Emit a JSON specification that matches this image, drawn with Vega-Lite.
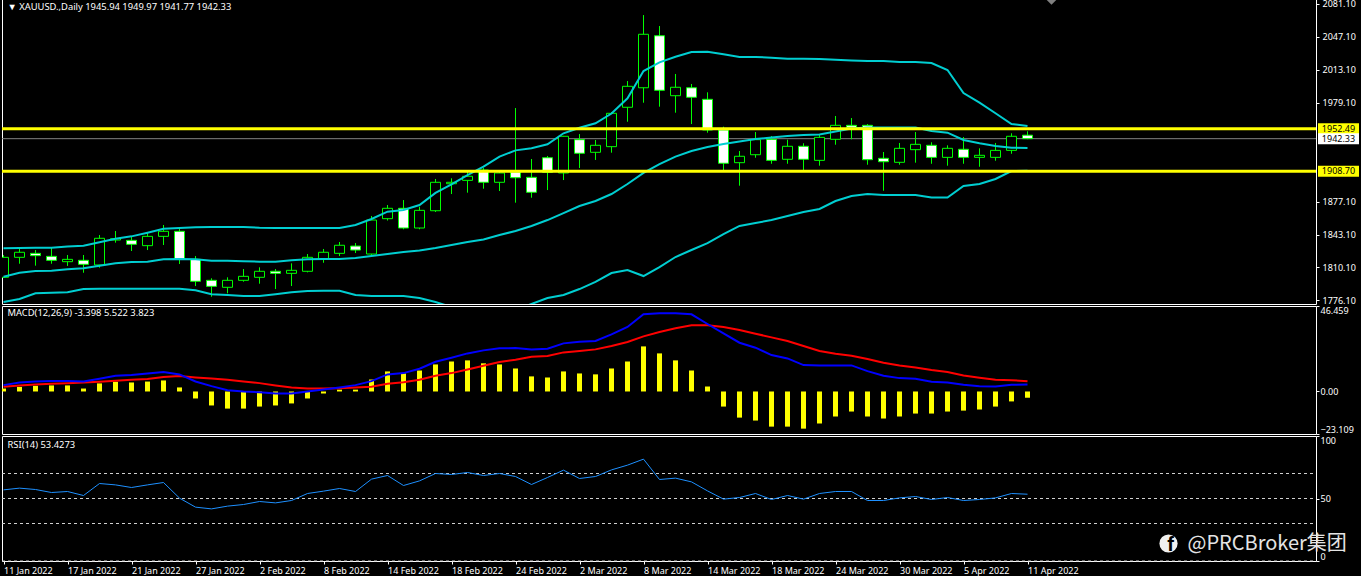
{
  "$schema": "https://vega.github.io/schema/vega-lite/v6.json",
  "background": "#000000",
  "padding": {"left": 0, "top": -3, "right": 0, "bottom": 0},
  "spacing": 2,
  "bounds": "flush",
  "datasets": {
    "daily": [
      {"date":"2022-01-11","open":1799.5,"high":1822.5,"low":1798.8,"close":1820.1,"upper":1829.4,"middle":1800.1,"lower":1774,"hist":1.6,"macd":3.45,"signal":2.54,"rsi":56.9},
      {"date":"2022-01-12","open":1820.1,"high":1828.7,"low":1813.5,"close":1825.3,"upper":1829.7,"middle":1804.2,"lower":1777.1,"hist":2.5,"macd":4.9,"signal":3.27,"rsi":58.3},
      {"date":"2022-01-13","open":1824.2,"high":1827.6,"low":1811.5,"close":1821.8,"upper":1830,"middle":1806,"lower":1783,"hist":3.1,"macd":5.45,"signal":3.81,"rsi":57.2},
      {"date":"2022-01-14","open":1821.1,"high":1829.7,"low":1813.5,"close":1817,"upper":1830,"middle":1806.3,"lower":1783.6,"hist":3.3,"macd":5.63,"signal":4.18,"rsi":54.8},
      {"date":"2022-01-17","open":1815.6,"high":1822.5,"low":1811.2,"close":1818,"upper":1831.2,"middle":1807.7,"lower":1784,"hist":3.3,"macd":5.63,"signal":4.54,"rsi":55.6},
      {"date":"2022-01-18","open":1817,"high":1822.5,"low":1804.2,"close":1812.9,"upper":1832.1,"middle":1808.8,"lower":1787.4,"hist":1.6,"macd":5.45,"signal":4.9,"rsi":52.4},
      {"date":"2022-01-19","open":1812.2,"high":1843.1,"low":1809.4,"close":1839.7,"upper":1835.6,"middle":1811.5,"lower":1787.8,"hist":4.4,"macd":6.9,"signal":5.27,"rsi":62},
      {"date":"2022-01-20","open":1837.9,"high":1847.2,"low":1835.2,"close":1839.3,"upper":1839.3,"middle":1813.9,"lower":1787.8,"hist":5.3,"macd":8.54,"signal":5.81,"rsi":60.9},
      {"date":"2022-01-21","open":1837.6,"high":1841,"low":1826.6,"close":1833.5,"upper":1841.7,"middle":1815.3,"lower":1787.8,"hist":4.9,"macd":8.9,"signal":6.36,"rsi":58.8},
      {"date":"2022-01-24","open":1832.1,"high":1845.1,"low":1827.6,"close":1841.7,"upper":1845.5,"middle":1815.6,"lower":1787.8,"hist":5.4,"macd":9.81,"signal":6.72,"rsi":60.9},
      {"date":"2022-01-25","open":1841.7,"high":1853.4,"low":1832.8,"close":1846.9,"upper":1849.6,"middle":1818,"lower":1787.8,"hist":6,"macd":10.53,"signal":7.81,"rsi":62.8},
      {"date":"2022-01-26","open":1846.9,"high":1849.3,"low":1813.2,"close":1818,"upper":1850.3,"middle":1818.4,"lower":1787.8,"hist":2.2,"macd":9.26,"signal":8.35,"rsi":50.3},
      {"date":"2022-01-27","open":1818,"high":1821.4,"low":1790.5,"close":1795.4,"upper":1851,"middle":1818,"lower":1786.1,"hist":-3.8,"macd":5.45,"signal":7.63,"rsi":43.1},
      {"date":"2022-01-28","open":1796.4,"high":1798.5,"low":1779.5,"close":1790.2,"upper":1851.3,"middle":1816.6,"lower":1782,"hist":-7.6,"macd":2.91,"signal":7.08,"rsi":41.7},
      {"date":"2022-01-31","open":1789.2,"high":1799.5,"low":1783,"close":1796.4,"upper":1851.3,"middle":1816.6,"lower":1781.3,"hist":-9.3,"macd":0.73,"signal":6.36,"rsi":43.9},
      {"date":"2022-02-01","open":1796.4,"high":1808,"low":1795,"close":1800.5,"upper":1851.3,"middle":1816,"lower":1780.2,"hist":-9.3,"macd":0,"signal":5.45,"rsi":45.2},
      {"date":"2022-02-02","open":1799.5,"high":1809.8,"low":1792.9,"close":1805.7,"upper":1850.6,"middle":1815.6,"lower":1780.2,"hist":-8.2,"macd":-0.36,"signal":4.54,"rsi":47.6},
      {"date":"2022-02-03","open":1805.7,"high":1808,"low":1787.4,"close":1803.6,"upper":1850.3,"middle":1815.6,"lower":1782,"hist":-7.6,"macd":-1.09,"signal":3.27,"rsi":46.5},
      {"date":"2022-02-04","open":1803.6,"high":1813.9,"low":1790.5,"close":1806.7,"upper":1850.3,"middle":1817,"lower":1784,"hist":-6.5,"macd":-1.09,"signal":2.18,"rsi":48.4},
      {"date":"2022-02-07","open":1805.7,"high":1823.5,"low":1804.6,"close":1820.1,"upper":1850.3,"middle":1818,"lower":1785.4,"hist":-3.8,"macd":0,"signal":1.63,"rsi":54},
      {"date":"2022-02-08","open":1818.7,"high":1828.7,"low":1814.5,"close":1825.3,"upper":1850.3,"middle":1818.4,"lower":1785.7,"hist":-1.1,"macd":1.09,"signal":1.63,"rsi":55.9},
      {"date":"2022-02-09","open":1824.2,"high":1835.9,"low":1821.4,"close":1832.5,"upper":1850.3,"middle":1818.4,"lower":1785.7,"hist":1,"macd":2.18,"signal":1.82,"rsi":58},
      {"date":"2022-02-10","open":1831.7,"high":1834.8,"low":1824.5,"close":1827.6,"upper":1853.4,"middle":1819.4,"lower":1781.3,"hist":1,"macd":3.45,"signal":2.18,"rsi":55.6},
      {"date":"2022-02-11","open":1823.5,"high":1862.7,"low":1822.5,"close":1858.5,"upper":1859.6,"middle":1821.4,"lower":1780.2,"hist":6.5,"macd":5.63,"signal":2.54,"rsi":65.5},
      {"date":"2022-02-14","open":1859.9,"high":1874,"low":1858,"close":1870.6,"upper":1867.1,"middle":1823.5,"lower":1780.2,"hist":10.9,"macd":9.26,"signal":4.18,"rsi":68.4},
      {"date":"2022-02-15","open":1870.6,"high":1879.1,"low":1849,"close":1850.3,"upper":1868.8,"middle":1825.6,"lower":1780.2,"hist":9.8,"macd":9.99,"signal":5.08,"rsi":60.4},
      {"date":"2022-02-16","open":1850.3,"high":1872.2,"low":1849,"close":1868.5,"upper":1874,"middle":1827.1,"lower":1778.2,"hist":11.4,"macd":12.35,"signal":6.36,"rsi":64.1},
      {"date":"2022-02-17","open":1868.1,"high":1900.8,"low":1866.8,"close":1897.4,"upper":1886.4,"middle":1829.7,"lower":1774,"hist":14.7,"macd":16.16,"signal":8.54,"rsi":70},
      {"date":"2022-02-18","open":1895.9,"high":1901.5,"low":1885.3,"close":1897.4,"upper":1895.3,"middle":1832.8,"lower":1768.9,"hist":16.3,"macd":18.34,"signal":9.99,"rsi":69.2},
      {"date":"2022-02-21","open":1899.4,"high":1908,"low":1886.7,"close":1903.6,"upper":1904.9,"middle":1835.9,"lower":1763.7,"hist":16.9,"macd":20.7,"signal":11.99,"rsi":70.8},
      {"date":"2022-02-22","open":1910,"high":1912.1,"low":1890.8,"close":1897.4,"upper":1913.5,"middle":1838.4,"lower":1760.7,"hist":15.3,"macd":22.34,"signal":13.98,"rsi":68.4},
      {"date":"2022-02-23","open":1897.4,"high":1910,"low":1888.4,"close":1907,"upper":1923.8,"middle":1843.1,"lower":1758.6,"hist":14.7,"macd":23.43,"signal":15.98,"rsi":70},
      {"date":"2022-02-24","open":1908,"high":1973.9,"low":1876.4,"close":1902.1,"upper":1930.3,"middle":1847.2,"lower":1765.8,"hist":12.5,"macd":23.61,"signal":17.25,"rsi":67.6},
      {"date":"2022-02-25","open":1902.5,"high":1921.4,"low":1881.5,"close":1887.1,"upper":1932.4,"middle":1852.4,"lower":1772,"hist":8.2,"macd":22.88,"signal":18.89,"rsi":61.2},
      {"date":"2022-02-28","open":1922.7,"high":1924.5,"low":1889.4,"close":1907.7,"upper":1936.5,"middle":1858.5,"lower":1778.2,"hist":7.6,"macd":23.24,"signal":19.25,"rsi":66.8},
      {"date":"2022-03-01","open":1907,"high":1945.2,"low":1899.7,"close":1944.8,"upper":1947.9,"middle":1865.7,"lower":1781.3,"hist":10.9,"macd":26.15,"signal":21.25,"rsi":72.7},
      {"date":"2022-03-02","open":1941.3,"high":1947.1,"low":1912.1,"close":1927.3,"upper":1953.6,"middle":1873,"lower":1787.4,"hist":9.8,"macd":27.06,"signal":21.97,"rsi":66},
      {"date":"2022-03-03","open":1928.3,"high":1941,"low":1920.4,"close":1935.5,"upper":1958.2,"middle":1878.1,"lower":1794.7,"hist":9.3,"macd":27.42,"signal":22.88,"rsi":67.6},
      {"date":"2022-03-04","open":1934.1,"high":1969.8,"low":1927.9,"close":1968.5,"upper":1968.3,"middle":1885.3,"lower":1803.9,"hist":12.5,"macd":31.05,"signal":24.7,"rsi":72.9},
      {"date":"2022-03-07","open":1974.7,"high":2001.7,"low":1959.8,"close":1996.3,"upper":1983.9,"middle":1895.6,"lower":1807,"hist":16.3,"macd":35.05,"signal":26.88,"rsi":76.7},
      {"date":"2022-03-08","open":1994.8,"high":2069.7,"low":1979.4,"close":2049.9,"upper":2012,"middle":1907,"lower":1800.8,"hist":24.5,"macd":41.95,"signal":29.96,"rsi":81.5},
      {"date":"2022-03-09","open":2048.4,"high":2058.4,"low":1975.3,"close":1992.2,"upper":2021,"middle":1916.2,"lower":1810.1,"hist":20.7,"macd":42.49,"signal":32.32,"rsi":65.2},
      {"date":"2022-03-10","open":1986.6,"high":2009,"low":1969.1,"close":1995.3,"upper":2026.8,"middle":1923.8,"lower":1820.4,"hist":16.9,"macd":42.49,"signal":34.32,"rsi":66.3},
      {"date":"2022-03-11","open":1994.8,"high":1998.7,"low":1957.4,"close":1985,"upper":2031.6,"middle":1929.6,"lower":1827.6,"hist":11.4,"macd":41.95,"signal":35.96,"rsi":63.3},
      {"date":"2022-03-14","open":1982.9,"high":1990.1,"low":1948.5,"close":1951.3,"upper":2031.9,"middle":1933.7,"lower":1834.8,"hist":2.7,"macd":36.68,"signal":35.96,"rsi":56.1},
      {"date":"2022-03-15","open":1951.3,"high":1954.7,"low":1908.3,"close":1917,"upper":2029.3,"middle":1936.8,"lower":1844.1,"hist":-8.2,"macd":31.6,"signal":35.05,"rsi":49.5},
      {"date":"2022-03-16","open":1917.6,"high":1929.6,"low":1893.9,"close":1924.2,"upper":2026.5,"middle":1939.4,"lower":1852.4,"hist":-14.2,"macd":26.51,"signal":33.41,"rsi":50.8},
      {"date":"2022-03-17","open":1925.8,"high":1949.2,"low":1922.7,"close":1941.3,"upper":2026.5,"middle":1942,"lower":1855.4,"hist":-15.8,"macd":23.79,"signal":31.42,"rsi":54},
      {"date":"2022-03-18","open":1941.7,"high":1945.1,"low":1916.5,"close":1920,"upper":2025.8,"middle":1943.5,"lower":1858.5,"hist":-19.1,"macd":19.79,"signal":29.42,"rsi":49.2},
      {"date":"2022-03-21","open":1921.1,"high":1941.3,"low":1916.5,"close":1934.5,"upper":2024.7,"middle":1945.1,"lower":1862.7,"hist":-19.1,"macd":17.98,"signal":27.42,"rsi":52.4},
      {"date":"2022-03-22","open":1934.5,"high":1937.6,"low":1908,"close":1921.1,"upper":2024.7,"middle":1946.1,"lower":1866.8,"hist":-20.2,"macd":14.35,"signal":24.7,"rsi":49.5},
      {"date":"2022-03-23","open":1920,"high":1946.1,"low":1914.5,"close":1943.7,"upper":2024.4,"middle":1946.6,"lower":1869.9,"hist":-17.4,"macd":14.16,"signal":21.97,"rsi":54},
      {"date":"2022-03-24","open":1941.7,"high":1965.7,"low":1936.1,"close":1956.1,"upper":2023.7,"middle":1949.7,"lower":1878.1,"hist":-13.6,"macd":14.16,"signal":20.52,"rsi":55.6},
      {"date":"2022-03-25","open":1956.1,"high":1963.6,"low":1941.7,"close":1954,"upper":2022.9,"middle":1952.8,"lower":1883.3,"hist":-10.9,"macd":14.16,"signal":19.43,"rsi":55.6},
      {"date":"2022-03-28","open":1956.1,"high":1957.4,"low":1915.5,"close":1920.7,"upper":2022.4,"middle":1953.8,"lower":1885.3,"hist":-13.6,"macd":11.08,"signal":17.62,"rsi":48.4},
      {"date":"2022-03-29","open":1922.1,"high":1928.6,"low":1888.7,"close":1918.6,"upper":2022.4,"middle":1953.8,"lower":1884.3,"hist":-14.7,"macd":8.54,"signal":15.62,"rsi":48.4},
      {"date":"2022-03-30","open":1918,"high":1937.9,"low":1915.5,"close":1932.4,"upper":2021.3,"middle":1953.8,"lower":1884.3,"hist":-13.6,"macd":7.26,"signal":14.16,"rsi":50.5},
      {"date":"2022-03-31","open":1931,"high":1949.2,"low":1917.6,"close":1936.5,"upper":2021.3,"middle":1953.8,"lower":1884.3,"hist":-12,"macd":6.9,"signal":13.08,"rsi":51.6},
      {"date":"2022-04-01","open":1935.5,"high":1938.6,"low":1916.5,"close":1923.1,"upper":2020.3,"middle":1950.2,"lower":1881.7,"hist":-12,"macd":5.27,"signal":11.62,"rsi":49.2},
      {"date":"2022-04-04","open":1923.1,"high":1935.5,"low":1914.5,"close":1932.4,"upper":2013.1,"middle":1948.5,"lower":1881.7,"hist":-10.9,"macd":4.9,"signal":10.53,"rsi":50.8},
      {"date":"2022-04-05","open":1931.4,"high":1944,"low":1916.5,"close":1923.1,"upper":1989.4,"middle":1941,"lower":1893.6,"hist":-10.4,"macd":3.63,"signal":8.72,"rsi":48.4},
      {"date":"2022-04-06","open":1923.1,"high":1932.4,"low":1913.4,"close":1925.2,"upper":1979.4,"middle":1937.6,"lower":1895.6,"hist":-9.8,"macd":2.91,"signal":7.45,"rsi":49.2},
      {"date":"2022-04-07","open":1923.1,"high":1937.9,"low":1919.6,"close":1930.3,"upper":1968.5,"middle":1934.8,"lower":1900.8,"hist":-8.2,"macd":2.72,"signal":6.36,"rsi":50.5},
      {"date":"2022-04-08","open":1930.3,"high":1947.9,"low":1926.8,"close":1944.8,"upper":1957.4,"middle":1933,"lower":1909,"hist":-5.4,"macd":3.63,"signal":6.17,"rsi":54},
      {"date":"2022-04-11","open":1945.94,"high":1949.97,"low":1941.77,"close":1942.33,"upper":1955.4,"middle":1932.7,"lower":1909.3,"hist":-3.398,"macd":3.823,"signal":5.522,"rsi":53.4273}
    ]
  },
  "vconcat": [
    {
      "width": 1314,
      "height": 306,
      "data": {"name": "daily"},
      "encoding": {
        "x": {"field": "date", "type": "ordinal", "axis": null, "scale": {"type": "point", "padding": 0.0625, "align": 0.75, "domain": ["2022-01-11","2022-01-12","2022-01-13","2022-01-14","2022-01-17","2022-01-18","2022-01-19","2022-01-20","2022-01-21","2022-01-24","2022-01-25","2022-01-26","2022-01-27","2022-01-28","2022-01-31","2022-02-01","2022-02-02","2022-02-03","2022-02-04","2022-02-07","2022-02-08","2022-02-09","2022-02-10","2022-02-11","2022-02-14","2022-02-15","2022-02-16","2022-02-17","2022-02-18","2022-02-21","2022-02-22","2022-02-23","2022-02-24","2022-02-25","2022-02-28","2022-03-01","2022-03-02","2022-03-03","2022-03-04","2022-03-07","2022-03-08","2022-03-09","2022-03-10","2022-03-11","2022-03-14","2022-03-15","2022-03-16","2022-03-17","2022-03-18","2022-03-21","2022-03-22","2022-03-23","2022-03-24","2022-03-25","2022-03-28","2022-03-29","2022-03-30","2022-03-31","2022-04-01","2022-04-04","2022-04-05","2022-04-06","2022-04-07","2022-04-08","2022-04-11","2022-04-12","2022-04-13","2022-04-14","2022-04-15","2022-04-18","2022-04-19","2022-04-20","2022-04-21","2022-04-22","2022-04-25","2022-04-26","2022-04-27","2022-04-28","2022-04-29","2022-05-02","2022-05-03","2022-05-04","2022-05-05"]}}
      },
      "layer": [
        {
          "data": {"values": [{"price": 1942.33}]},
          "mark": {"type": "rule", "color": "#808080", "strokeWidth": 1},
          "encoding": {
            "x": {"value": 0},
            "x2": {"value": 1314},
            "y": {
              "field": "price",
              "type": "quantitative",
              "scale": {"domain": [1772.0, 2087.28], "nice": false, "zero": false},
              "axis": {
                "orient": "right",
                "title": null,
                "grid": false,
                "domain": false,
                "values": [2081.1, 2047.1, 2013.1, 1979.1, 1877.1, 1843.1, 1810.1, 1776.1],
                "format": ".2f",
                "tickColor": "#ffffff",
                "tickSize": 3,
                "labelColor": "#ffffff",
                "labelFont": "Noto Sans",
                "labelFontSize": 9,
                "labelPadding": 3,
                "labelBound": false,
                "labelOverlap": false,
                "minExtent": 44,
                "maxExtent": 44
              }
            }
          }
        },
        {
          "mark": {"type": "rule", "color": "#00ff00", "strokeWidth": 1, "clip": true},
          "encoding": {
            "y": {"field": "low", "type": "quantitative", "axis": {"orient": "right", "title": null}},
            "y2": {"field": "high"}
          }
        },
        {
          "mark": {"type": "bar", "size": 10, "stroke": "#00ff00", "strokeWidth": 1, "clip": true},
          "encoding": {
            "y": {"field": "open", "type": "quantitative", "axis": {"orient": "right", "title": null}},
            "y2": {"field": "close"},
            "color": {"condition": {"test": "datum.close < datum.open", "value": "#ffffff"}, "value": "#000000"}
          }
        },
        {
          "mark": {"type": "line", "color": "#00ced1", "strokeWidth": 2, "clip": true},
          "encoding": {"y": {"field": "upper", "type": "quantitative", "axis": {"orient": "right", "title": null}}}
        },
        {
          "mark": {"type": "line", "color": "#00ced1", "strokeWidth": 2, "clip": true},
          "encoding": {"y": {"field": "middle", "type": "quantitative", "axis": {"orient": "right", "title": null}}}
        },
        {
          "mark": {"type": "line", "color": "#00ced1", "strokeWidth": 2, "clip": true},
          "encoding": {"y": {"field": "lower", "type": "quantitative", "axis": {"orient": "right", "title": null}}}
        },
        {
          "data": {"values": [{"price": 1952.49}, {"price": 1908.7}]},
          "mark": {"type": "rule", "color": "#ffff00", "strokeWidth": 3},
          "encoding": {
            "x": {"value": 0},
            "x2": {"value": 1314},
            "y": {"field": "price", "type": "quantitative", "axis": {"orient": "right", "title": null}}
          }
        },
        {
          "data": {"values": [{"date": "2022-04-11", "price": 1952.49}, {"date": "2022-04-11", "price": 1908.7}]},
          "mark": {"type": "point", "shape": "M-1,-0.27H1V0.27H-1Z", "size": 1681, "filled": true, "color": "#ffff00", "opacity": 1, "xOffset": 311},
          "encoding": {"y": {"field": "price", "type": "quantitative", "axis": {"orient": "right", "title": null}}}
        },
        {
          "data": {"values": [{"date": "2022-04-11", "price": 1942.33}]},
          "mark": {"type": "point", "shape": "M-1,-0.27H1V0.27H-1Z", "size": 1681, "filled": true, "color": "#ffffff", "opacity": 1, "xOffset": 311},
          "encoding": {"y": {"field": "price", "type": "quantitative", "axis": {"orient": "right", "title": null}}}
        },
        {
          "data": {"values": [{"date": "2022-04-11", "price": 1952.49}, {"date": "2022-04-11", "price": 1942.33}, {"date": "2022-04-11", "price": 1908.7}]},
          "mark": {"type": "text", "color": "#000000", "font": "Noto Sans", "fontSize": 9, "dx": 311, "align": "center", "baseline": "middle"},
          "encoding": {
            "y": {"field": "price", "type": "quantitative", "axis": {"orient": "right", "title": null}},
            "text": {"field": "price", "type": "quantitative", "format": ".2f"}
          }
        },
        {
          "data": {"values": [{"date": "2022-04-11", "price": 2085.22}]},
          "mark": {"type": "point", "shape": "diamond", "size": 90, "filled": true, "color": "#808080", "opacity": 1, "xOffset": 24, "clip": true},
          "encoding": {"y": {"field": "price", "type": "quantitative", "axis": {"orient": "right", "title": null}}}
        },
        {
          "data": {"values": [{"date": "2022-01-11", "price": 2078, "label": "▼ XAUUSD.,Daily  1945.94 1949.97 1941.77 1942.33"}]},
          "mark": {"type": "text", "color": "#ffffff", "font": "Noto Sans", "fontSize": 9.4, "dx": 4, "align": "left", "baseline": "middle"},
          "encoding": {
            "y": {"field": "price", "type": "quantitative", "axis": {"orient": "right", "title": null}},
            "text": {"field": "label", "type": "nominal"}
          }
        }
      ]
    },
    {
      "width": 1314,
      "height": 128,
      "data": {"name": "daily"},
      "encoding": {
        "x": {"field": "date", "type": "ordinal", "axis": null, "scale": {"type": "point", "padding": 0.0625, "align": 0.75, "domain": ["2022-01-11","2022-01-12","2022-01-13","2022-01-14","2022-01-17","2022-01-18","2022-01-19","2022-01-20","2022-01-21","2022-01-24","2022-01-25","2022-01-26","2022-01-27","2022-01-28","2022-01-31","2022-02-01","2022-02-02","2022-02-03","2022-02-04","2022-02-07","2022-02-08","2022-02-09","2022-02-10","2022-02-11","2022-02-14","2022-02-15","2022-02-16","2022-02-17","2022-02-18","2022-02-21","2022-02-22","2022-02-23","2022-02-24","2022-02-25","2022-02-28","2022-03-01","2022-03-02","2022-03-03","2022-03-04","2022-03-07","2022-03-08","2022-03-09","2022-03-10","2022-03-11","2022-03-14","2022-03-15","2022-03-16","2022-03-17","2022-03-18","2022-03-21","2022-03-22","2022-03-23","2022-03-24","2022-03-25","2022-03-28","2022-03-29","2022-03-30","2022-03-31","2022-04-01","2022-04-04","2022-04-05","2022-04-06","2022-04-07","2022-04-08","2022-04-11","2022-04-12","2022-04-13","2022-04-14","2022-04-15","2022-04-18","2022-04-19","2022-04-20","2022-04-21","2022-04-22","2022-04-25","2022-04-26","2022-04-27","2022-04-28","2022-04-29","2022-05-02","2022-05-03","2022-05-04","2022-05-05"]}}
      },
      "layer": [
        {
          "mark": {"type": "bar", "size": 5, "color": "#ffff00", "clip": true},
          "encoding": {
            "y": {
              "field": "hist",
              "type": "quantitative",
              "scale": {"domain": [-23.109, 46.459], "nice": false},
              "axis": {
                "orient": "right",
                "title": null,
                "grid": false,
                "domain": false,
                "values": [46.459, 0, -23.109],
                "labelExpr": "datum.value === 0 ? '0.00' : format(datum.value, '.3f')",
                "labelFlush": true,
                "tickColor": "#ffffff",
                "tickSize": 3,
                "labelColor": "#ffffff",
                "labelFont": "Noto Sans",
                "labelFontSize": 9,
                "labelPadding": 1,
                "labelBound": false,
                "labelOverlap": false,
                "minExtent": 44,
                "maxExtent": 44
              }
            }
          }
        },
        {
          "mark": {"type": "line", "color": "#ff0000", "strokeWidth": 2, "clip": true},
          "encoding": {"y": {"field": "signal", "type": "quantitative", "axis": {"orient": "right", "title": null}}}
        },
        {
          "mark": {"type": "line", "color": "#0000ff", "strokeWidth": 2, "clip": true},
          "encoding": {"y": {"field": "macd", "type": "quantitative", "axis": {"orient": "right", "title": null}}}
        },
        {
          "data": {"values": [{"date": "2022-01-11", "hist": 42.8, "label": "MACD(12,26,9) -3.398 5.522 3.823"}]},
          "mark": {"type": "text", "color": "#ffffff", "font": "Noto Sans", "fontSize": 9.4, "dx": 4, "align": "left", "baseline": "middle"},
          "encoding": {
            "y": {"field": "hist", "type": "quantitative", "axis": {"orient": "right", "title": null}},
            "text": {"field": "label", "type": "nominal"}
          }
        }
      ]
    },
    {
      "width": 1314,
      "height": 125,
      "data": {"name": "daily"},
      "encoding": {
        "x": {
          "field": "date",
          "type": "ordinal",
          "scale": {"type": "point", "padding": 0.0625, "align": 0.75, "domain": ["2022-01-11","2022-01-12","2022-01-13","2022-01-14","2022-01-17","2022-01-18","2022-01-19","2022-01-20","2022-01-21","2022-01-24","2022-01-25","2022-01-26","2022-01-27","2022-01-28","2022-01-31","2022-02-01","2022-02-02","2022-02-03","2022-02-04","2022-02-07","2022-02-08","2022-02-09","2022-02-10","2022-02-11","2022-02-14","2022-02-15","2022-02-16","2022-02-17","2022-02-18","2022-02-21","2022-02-22","2022-02-23","2022-02-24","2022-02-25","2022-02-28","2022-03-01","2022-03-02","2022-03-03","2022-03-04","2022-03-07","2022-03-08","2022-03-09","2022-03-10","2022-03-11","2022-03-14","2022-03-15","2022-03-16","2022-03-17","2022-03-18","2022-03-21","2022-03-22","2022-03-23","2022-03-24","2022-03-25","2022-03-28","2022-03-29","2022-03-30","2022-03-31","2022-04-01","2022-04-04","2022-04-05","2022-04-06","2022-04-07","2022-04-08","2022-04-11","2022-04-12","2022-04-13","2022-04-14","2022-04-15","2022-04-18","2022-04-19","2022-04-20","2022-04-21","2022-04-22","2022-04-25","2022-04-26","2022-04-27","2022-04-28","2022-04-29","2022-05-02","2022-05-03","2022-05-04","2022-05-05"]},
          "axis": {
            "title": null,
            "grid": false,
            "domain": false,
            "values": ["2022-01-11", "2022-01-17", "2022-01-21", "2022-01-27", "2022-02-02", "2022-02-08", "2022-02-14", "2022-02-18", "2022-02-24", "2022-03-02", "2022-03-08", "2022-03-14", "2022-03-18", "2022-03-24", "2022-03-30", "2022-04-05", "2022-04-11"],
            "labelExpr": "utcFormat(toDate(datum.value), '%-d %b %Y')",
            "labelAngle": 0,
            "labelAlign": "left",
            "labelBaseline": "top",
            "labelColor": "#ffffff",
            "labelFont": "Noto Sans",
            "labelFontSize": 9,
            "labelPadding": 2,
            "labelBound": false,
            "labelOverlap": false,
            "tickColor": "#ffffff",
            "tickSize": 3
          }
        }
      },
      "layer": [
        {
          "data": {"values": [{"level": 70}, {"level": 50}, {"level": 30}, {"level": 0}]},
          "mark": {"type": "rule", "color": "#d0d0d0", "strokeWidth": 1, "strokeDash": [3, 3]},
          "encoding": {
            "x": {"value": 0},
            "x2": {"value": 1314},
            "y": {
              "field": "level",
              "type": "quantitative",
              "scale": {"domain": [0, 100], "nice": false},
              "axis": {
                "orient": "right",
                "title": null,
                "grid": false,
                "domain": false,
                "values": [100, 70, 50, 30, 0],
                "labelFlush": true,
                "tickColor": "#ffffff",
                "tickSize": 3,
                "labelColor": "#ffffff",
                "labelFont": "Noto Sans",
                "labelFontSize": 9,
                "labelPadding": 1,
                "labelBound": false,
                "labelOverlap": false,
                "minExtent": 44,
                "maxExtent": 44
              }
            }
          }
        },
        {
          "mark": {"type": "line", "color": "#1e90ff", "strokeWidth": 1, "clip": true},
          "encoding": {"y": {"field": "rsi", "type": "quantitative", "axis": {"orient": "right", "title": null}}}
        },
        {
          "data": {"values": [{"date": "2022-01-11", "level": 93, "label": "RSI(14) 53.4273"}]},
          "mark": {"type": "text", "color": "#ffffff", "font": "Noto Sans", "fontSize": 9.4, "dx": 4, "align": "left", "baseline": "middle"},
          "encoding": {
            "y": {"field": "level", "type": "quantitative", "axis": {"orient": "right", "title": null}},
            "text": {"field": "label", "type": "nominal"}
          }
        },
        {
          "data": {"values": [{"date": "2022-04-11", "level": 14}]},
          "mark": {"type": "point", "shape": "circle", "size": 330, "filled": true, "color": "#f0f0f0", "opacity": 1, "xOffset": 141},
          "encoding": {"y": {"field": "level", "type": "quantitative", "axis": {"orient": "right", "title": null}}}
        },
        {
          "data": {"values": [{"date": "2022-04-11", "level": 14, "label": "f"}]},
          "mark": {"type": "text", "color": "#000000", "font": "Liberation Sans", "fontWeight": "bold", "fontSize": 20, "dx": 143, "dy": 1, "align": "center", "baseline": "middle"},
          "encoding": {
            "y": {"field": "level", "type": "quantitative", "axis": {"orient": "right", "title": null}},
            "text": {"field": "label", "type": "nominal"}
          }
        },
        {
          "data": {"values": [{"date": "2022-04-11", "level": 14, "label": "@PRCBroker集团"}]},
          "mark": {"type": "text", "color": "#e4e4e4", "font": "Noto Sans CJK SC", "fontSize": 20, "dx": 160, "align": "left", "baseline": "middle"},
          "encoding": {
            "y": {"field": "level", "type": "quantitative", "axis": {"orient": "right", "title": null}},
            "text": {"field": "label", "type": "nominal"}
          }
        }
      ]
    }
  ],
  "config": {
    "view": {"stroke": "#ffffff", "strokeWidth": 1, "fill": "#000000"},
    "axis": {"ticks": true}
  }
}
